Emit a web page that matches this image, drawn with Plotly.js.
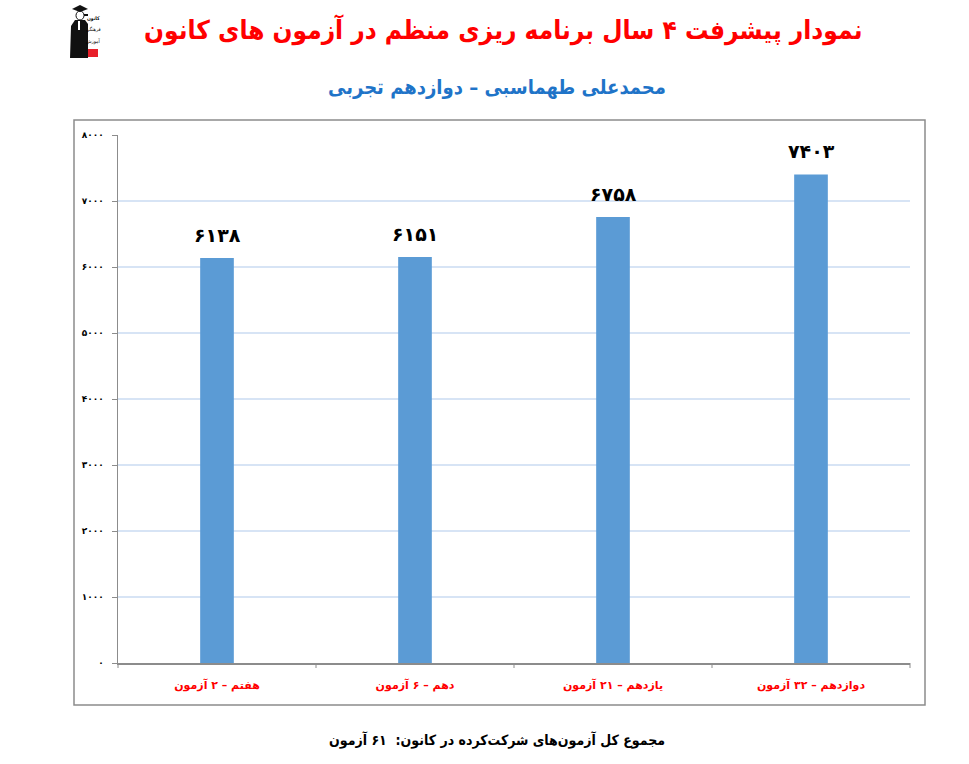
<!DOCTYPE html>
<html>
<head>
<meta charset="utf-8">
<script src="https://cdn.plot.ly/plotly-3.0.1.min.js"></script>
<style>
  html, body { margin: 0; padding: 0; background: #ffffff; }
  #chart { width: 969px; height: 764px; }
</style>
</head>
<body>
<div id="chart"></div>
<script>
// ---- data ----
const categories = ["هفتم – ۲ آزمون", "دهم – ۶ آزمون", "یازدهم – ۲۱ آزمون", "دوازدهم – ۳۲ آزمون"];
const values = [6138, 6151, 6758, 7403];
const tickValues = [0, 1000, 2000, 3000, 4000, 5000, 6000, 7000, 8000];
const tickLabels = ["۰", "۱۰۰۰", "۲۰۰۰", "۳۰۰۰", "۴۰۰۰", "۵۰۰۰", "۶۰۰۰", "۷۰۰۰", "۸۰۰۰"];
const valueLabels = ["۶۱۳۸", "۶۱۵۱", "۶۷۵۸", "۷۴۰۳"];

const titleText = "نمودار پیشرفت ۴ سال برنامه ریزی منظم در آزمون های کانون";
const subtitleText = "محمدعلی طهماسبی – دوازدهم تجربی";
const footerText = "مجموع کل آزمون‌های شرکت‌کرده در کانون:  ۶۱ آزمون";

// ---- geometry helpers (pixel -> paper) ----
const W = 969, H = 764;
const L = 118, R = 910, T = 135, B = 663;
const pw = R - L, ph = B - T;
const px = x => (x - L) / pw;
const py = y => (B - y) / ph;

const FONT = "DejaVu Sans, Noto Sans, sans-serif";
const CFONT = "DejaVu Sans Condensed, DejaVu Sans, sans-serif";

const trace = {
  type: "bar",
  x: categories,
  y: values,
  marker: { color: "#5b9bd5", line: { width: 0 } },
  width: 0.17,
  hoverinfo: "skip"
};

const annotations = [];
values.forEach((v, i) => {
  annotations.push({
    x: categories[i], y: v, xref: "x", yref: "y",
    text: "<b>" + valueLabels[i] + "</b>",
    showarrow: false, yanchor: "bottom", yshift: 10,
    font: { family: FONT, size: 19, color: "#000000" }
  });
});
annotations.push({
  x: px(503), y: py(30), xref: "paper", yref: "paper",
  text: "<b>" + titleText + "</b>", showarrow: false,
  xanchor: "center", yanchor: "middle",
  font: { family: CFONT, size: 26, color: "#ff0000" }
});
annotations.push({
  x: px(497), y: py(87), xref: "paper", yref: "paper",
  text: "<b>" + subtitleText + "</b>", showarrow: false,
  xanchor: "center", yanchor: "middle",
  font: { family: CFONT, size: 20, color: "#1f74c8" }
});
annotations.push({
  x: px(497), y: py(740), xref: "paper", yref: "paper",
  text: "<b>" + footerText + "</b>", showarrow: false,
  xanchor: "center", yanchor: "middle",
  font: { family: CFONT, size: 14, color: "#000000" }
});
// logo text
[["<b>کانون</b>", 19], ["فرهنگی", 30], ["آموزش", 41]].forEach(([t, y]) => {
  annotations.push({
    x: px(93), y: py(y), xref: "paper", yref: "paper",
    text: t, showarrow: false, xanchor: "center", yanchor: "middle",
    borderpad: 0,
    font: { family: CFONT, size: 5, color: "#000000" }
  });
});

const shapes = [
  // outer frame
  { type: "rect", xref: "paper", yref: "paper",
    x0: px(74), x1: px(925), y0: py(705), y1: py(120),
    line: { color: "#8c8c8c", width: 1.5 }, fillcolor: "rgba(0,0,0,0)", layer: "below" },
  // logo: figure body
  { type: "path", xref: "paper", yref: "paper",
    path: `M ${px(70)} ${py(58)} L ${px(71)} ${py(26)} L ${px(75)} ${py(20)} L ${px(85)} ${py(20)} L ${px(88)} ${py(24)} L ${px(88)} ${py(58)} Z`,
    fillcolor: "#111111", line: { width: 0 } },
  // head
  { type: "circle", xref: "paper", yref: "paper",
    x0: px(76), x1: px(84), y0: py(20), y1: py(11),
    fillcolor: "#ffffff", line: { color: "#111111", width: 1 } },
  // cap
  { type: "path", xref: "paper", yref: "paper",
    path: `M ${px(72)} ${py(9)} L ${px(80)} ${py(5)} L ${px(88)} ${py(9)} L ${px(80)} ${py(12)} Z`,
    fillcolor: "#111111", line: { width: 0 } },
  // pointer arm
  { type: "rect", xref: "paper", yref: "paper",
    x0: px(84), x1: px(88), y0: py(16), y1: py(14),
    fillcolor: "#111111", line: { width: 0 } },
  // white shirt hint
  { type: "rect", xref: "paper", yref: "paper",
    x0: px(78), x1: px(80), y0: py(30), y1: py(21),
    fillcolor: "#ffffff", line: { width: 0 } },
  // red band
  { type: "rect", xref: "paper", yref: "paper",
    x0: px(88), x1: px(98), y0: py(57), y1: py(49),
    fillcolor: "#e8202a", line: { width: 0 } }
];

const layout = {
  width: W, height: H,
  margin: { l: L, r: W - R, t: T, b: H - B, pad: 0 },
  paper_bgcolor: "#ffffff",
  plot_bgcolor: "#ffffff",
  showlegend: false,
  xaxis: {
    type: "category",
    showline: true, linecolor: "#8c8c8c", linewidth: 1.5,
    showgrid: false,
    ticks: "",
    tickfont: { family: FONT, size: 11, color: "#ff0000", weight: "bold" },
    ticklabelstandoff: 11,
    fixedrange: true
  },
  yaxis: {
    range: [0, 8000],
    tickvals: tickValues, ticktext: tickLabels,
    showline: true, linecolor: "#8c8c8c", linewidth: 1.5,
    showgrid: true, gridcolor: "#d7e4f5", gridwidth: 1.5,
    zeroline: false,
    ticks: "outside", ticklen: 5, tickcolor: "#8c8c8c", tickwidth: 1,
    tickfont: { family: FONT, size: 9, color: "#000000", weight: "bold" },
    ticklabelstandoff: 6,
    fixedrange: true
  },
  annotations: annotations,
  shapes: shapes.concat(
    [0, 1, 2, 3, 4].map(k => ({
      type: "line", xref: "paper", yref: "paper",
      x0: k / 4, x1: k / 4, y0: 0, y1: -5 / ph,
      line: { color: "#8c8c8c", width: 1 }
    }))
  )
};

Plotly.newPlot("chart", [trace], layout, { displayModeBar: false, staticPlot: true });
</script>
</body>
</html>
